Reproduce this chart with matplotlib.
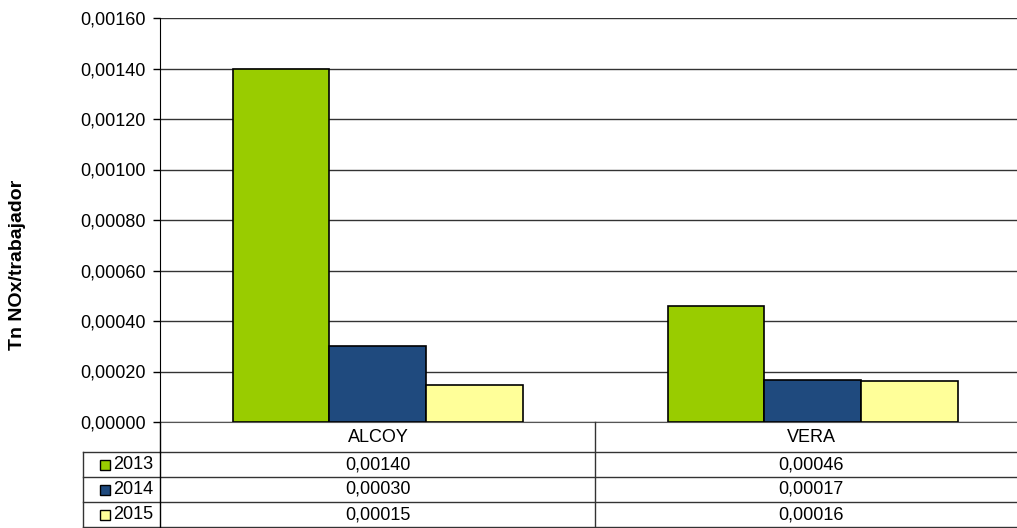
import numpy as np
import matplotlib.pyplot as plt
from matplotlib.lines import Line2D
from matplotlib.patches import Rectangle

plt.rcParams['font.family'] = ['Liberation Sans', 'DejaVu Sans']

# data
categories = ["ALCOY", "VERA"]
years = ["2013", "2014", "2015"]
v2013 = [0.001397, 0.000459]
v2014 = [0.000301, 0.000166]
v2015 = [0.000147, 0.000162]
series = [v2013, v2014, v2015]
colors = ["#99CC00", "#1F4A7E", "#FFFF99"]
yticks = np.arange(0, 0.00161, 0.0002)

W, H = 1017, 528
FS = 13
fig = plt.figure(figsize=(W / 100, H / 100), dpi=100)
ax = fig.add_axes([160 / W, 1 - 422 / H, 870 / W, 404 / H])

x = np.arange(len(categories)) + 0.5
bw = 1 / 4.5
for i, vals in enumerate(series):
    ax.bar(x + (i - 1) * bw, vals, width=bw, color=colors[i],
           edgecolor="black", linewidth=1.2, zorder=3)

ax.set_xlim(0, 2)
ax.set_ylim(0, 0.0016)
ax.set_yticks(yticks)
ax.set_yticklabels([f"{t:.5f}".replace(".", ",") for t in yticks], fontsize=FS)
ax.set_xticks([])
ax.yaxis.grid(True, color="#333333", linewidth=1, zorder=0)
for s in ["top", "right"]:
    ax.spines[s].set_visible(False)
ax.spines["bottom"].set_color("#555555")
ax.spines["left"].set_color("black")
ax.tick_params(axis="y", length=5, width=1, pad=5)


# data table below the plot (pixel layout -> figure fraction)
def fx(px):
    return px / W


def fy(py):
    return 1 - py / H


fig.text(fx(18), fy(265), "Tn NOx/trabajador", rotation=90, ha="center",
         va="center", fontsize=14, fontweight="bold")


def hline(x0, x1, y, c="#333333"):
    fig.add_artist(Line2D([fx(x0), fx(x1)], [fy(y), fy(y)], color=c, lw=1,
                          transform=fig.transFigure))


def vline(xp, y0, y1, c="#333333"):
    fig.add_artist(Line2D([fx(xp), fx(xp)], [fy(y0), fy(y1)], color=c, lw=1,
                          transform=fig.transFigure))


rows = [452, 477, 502, 527]
hline(160, W, rows[0])
for r in rows[1:]:
    hline(83, W, r)
hline(83, 160, rows[0])
vline(83, rows[0], rows[-1])
vline(160, 422, rows[-1], c="black")
vline(595, 422, rows[-1])

cat_px = [378, 811]
for c, cx in zip(categories, cat_px):
    fig.text(fx(cx), fy(437), c, ha="center", va="center", fontsize=FS)

for i, (yr, vals) in enumerate(zip(years, series)):
    yc = (rows[i] + rows[i + 1]) / 2
    fig.add_artist(Rectangle((fx(100), fy(yc + 5)), 10 / W, 10 / H,
                             facecolor=colors[i], edgecolor="black", lw=1,
                             transform=fig.transFigure))
    fig.text(fx(113), fy(yc), yr, ha="left", va="center", fontsize=FS)
    for v, cx in zip(vals, cat_px):
        fig.text(fx(cx), fy(yc), f"{v:.5f}".replace(".", ","),
                 ha="center", va="center", fontsize=FS)

fig.savefig("out.png", dpi=100)
